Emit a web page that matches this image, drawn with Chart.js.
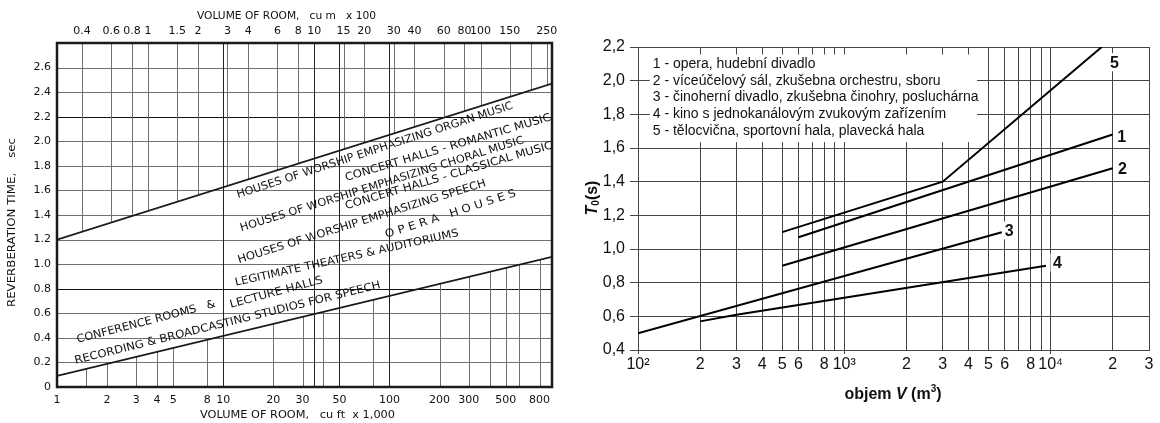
<!DOCTYPE html>
<html>
<head>
<meta charset="utf-8">
<script src="https://cdn.jsdelivr.net/npm/chart.js@4"></script>
<style>
    html, body { margin: 0; padding: 0; background: #fff; }
    #wrap { position: relative; width: 1160px; height: 423px; }
    canvas { position: absolute; top: 0; }
    #left { left: 0; }
    #right { left: 580px; }
</style>
</head>
<body>
<div id="wrap">
    <canvas id="left" width="580" height="423"></canvas>
    <canvas id="right" width="580" height="423"></canvas>
</div>
<script>
"use strict";

// left chart: recommended reverberation time, volume in cu ft x 1,000
const roomVolumes = [1, 950];
const upperLimit = [1.2, 2.47];
const lowerLimit = [0.09, 1.06];
const secTicks = [0, 0.2, 0.4, 0.6, 0.8, 1.0, 1.2, 1.4, 1.6, 1.8, 2.0, 2.2, 2.4, 2.6];
const ftTicks = [1, 2, 3, 4, 5, 8, 10, 20, 30, 50, 100, 200, 300, 500, 800];
const mTicks = [0.4, 0.6, 0.8, 1, 1.5, 2, 3, 4, 6, 8, 10, 15, 20, 30, 40, 60, 80, 100, 150, 250];
const ftGrid = [1.5, 2, 3, 4, 5, 8, 10, 20, 30, 40, 50, 80, 100, 200, 300, 400, 500, 600, 800];
const mGrid = [0.4, 0.6, 0.8, 1, 1.5, 2, 3, 4, 6, 8, 10, 15, 20, 30, 40, 60, 80, 100, 150, 200, 250];
const ftFull = [10, 50, 100];
const mFull = [10];
const CUM_TO_CUFT = 3.531; // 100 m3 expressed in 1000 ft3

const bandLabels = [
    { text: "HOUSES OF WORSHIP EMPHASIZING ORGAN MUSIC", from: [12.1, 1.56], to: [551, 2.29] },
    { text: "CONCERT HALLS - ROMANTIC MUSIC", from: [54.3, 1.70], to: [933, 2.195] },
    { text: "HOUSES OF WORSHIP EMPHASIZING CHORAL MUSIC", from: [12.7, 1.29], to: [641, 2.01] },
    { text: "CONCERT HALLS - CLASSICAL MUSIC", from: [54.3, 1.47], to: [955, 1.967] },
    { text: "HOUSES OF WORSHIP EMPHASIZING SPEECH", from: [12.3, 1.03], to: [379, 1.66] },
    { text: "O P E R A   H O U S E S", from: [94.6, 1.236], to: [574, 1.577] },
    { text: "LEGITIMATE THEATERS & AUDITORIUMS", from: [11.8, 0.846], to: [260, 1.252] },
    { text: "LECTURE HALLS", from: [11.0, 0.667], to: [39.5, 0.87] },
    { text: "CONFERENCE ROOMS   &", from: [1.32, 0.382], to: [8.95, 0.675] },
    { text: "RECORDING & BROADCASTING STUDIOS FOR SPEECH", from: [1.28, 0.211], to: [88, 0.829] }
];

// right chart: T0 vs volume V (m3), curves 1..5
const line1V = [600, 20000];
const line1T = [1.07, 1.68];
const line2V = [500, 20000];
const line2T = [0.9, 1.48];
const line3V = [100, 5800];
const line3T = [0.5, 1.1];
const line4V = [200, 300, 1000, 9500];
const line4T = [0.57, 0.61, 0.71, 0.9];
const line5V = [500, 3000, 17700];
const line5T = [1.1, 1.4, 2.2];

const volumeTicks = [100, 200, 300, 400, 500, 600, 700, 800, 900,
    1000, 2000, 3000, 4000, 5000, 6000, 7000, 8000, 9000, 10000, 20000, 30000];
const volumeLabels = ["10²", "2", "3", "4", "5", "6", "", "8", "",
    "10³", "2", "3", "4", "5", "6", "", "8", "", "10⁴", "2", "3"];
const timeTicks = [0.4, 0.5, 0.6, 0.7, 0.8, 0.9, 1.0, 1.1, 1.2, 1.3, 1.4,
    1.5, 1.6, 1.7, 1.8, 1.9, 2.0, 2.1, 2.2];

const legendItems = [
    "1 - opera, hudební divadlo",
    "2 - víceúčelový sál, zkušebna orchestru, sboru",
    "3 - činoherní divadlo, zkušebna činohry, posluchárna",
    "4 - kino s jednokanálovým zvukovým zařízením",
    "5 - tělocvična, sportovní hala, plavecká hala"
];
const legendRows = [2.1, 2.0, 1.9, 1.8, 1.7];
const curveNames = ["1", "2", "3", "4", "5"];
const curveTagV = [22100, 22300, 6300, 10800, 20400];
const curveTagT = [1.67, 1.48, 1.11, 0.92, 2.11];

const HAND = "\"DejaVu Sans\", sans-serif";
const ARIAL = "\"Liberation Sans\", Arial, sans-serif";

function points(xs, ys) {
    return xs.map((v, i) => ({ x: v, y: ys[i] }));
}

// text stretched to run from (x0,y0) to (x1,y1)
function fitText(ctx, text, x0, y0, x1, y1) {
    const len = Math.hypot(x1 - x0, y1 - y0);
    const w = ctx.measureText(text).width;
    ctx.save();
    ctx.translate(x0, y0);
    ctx.rotate(Math.atan2(y1 - y0, x1 - x0));
    ctx.scale(len / w, 1);
    ctx.textAlign = "left";
    ctx.textBaseline = "middle";
    ctx.fillText(text, 0, 0);
    ctx.restore();
}

function seg(ctx, x0, y0, x1, y1) {
    ctx.beginPath();
    ctx.moveTo(x0, y0);
    ctx.lineTo(x1, y1);
    ctx.stroke();
}

const leftDecor = {
    id: "leftDecor",
    beforeDatasetsDraw(chart) {
        const { ctx, chartArea: a } = chart;
        const { x, x2, y } = chart.scales;
        const xa = x.getPixelForValue(roomVolumes[0]);
        const xb = x.getPixelForValue(roomVolumes[roomVolumes.length - 1]);
        const along = (vals, px) => {
            const ya = y.getPixelForValue(vals[0]);
            const yb = y.getPixelForValue(vals[vals.length - 1]);
            return ya + (yb - ya) * (px - xa) / (xb - xa);
        };
        ctx.save();
        ctx.lineWidth = 1;
        for (const v of secTicks.slice(1)) {
            const py = Math.round(y.getPixelForValue(v)) + 0.5;
            ctx.strokeStyle = (v === 0.8 || v === 2.2) ? "#111" : "#707070";
            seg(ctx, a.left, py, a.right, py);
        }
        for (const v of ftGrid) {
            const px = Math.round(x.getPixelForValue(v)) + 0.5;
            const full = ftFull.includes(v);
            ctx.strokeStyle = full ? "#222" : "#707070";
            seg(ctx, px, a.bottom, px, full ? a.top : along(lowerLimit, px));
        }
        for (const v of mGrid) {
            const px = Math.round(x2.getPixelForValue(v)) + 0.5;
            const full = mFull.includes(v);
            ctx.strokeStyle = full ? "#222" : "#707070";
            seg(ctx, px, a.top, px, full ? a.bottom : along(upperLimit, px));
        }
        ctx.restore();
    },
    afterDatasetsDraw(chart) {
        const { ctx, chartArea: a } = chart;
        const { x, y } = chart.scales;
        ctx.save();
        ctx.strokeStyle = "#1a1a1a";
        ctx.lineWidth = 2.5;
        ctx.strokeRect(a.left, a.top, a.right - a.left, a.bottom - a.top);

        ctx.fillStyle = "#111";
        ctx.font = "11px " + HAND;
        for (const lb of bandLabels) {
            fitText(ctx, lb.text,
                x.getPixelForValue(lb.from[0]), y.getPixelForValue(lb.from[1]),
                x.getPixelForValue(lb.to[0]), y.getPixelForValue(lb.to[1]));
        }
        ctx.font = "10px " + HAND;
        fitText(ctx, "VOLUME OF ROOM,   cu m   x 100", 197, 16, 376, 16);
        fitText(ctx, "VOLUME OF ROOM,   cu ft  x 1,000", 200, 415, 395, 415);
        fitText(ctx, "REVERBERATION TIME,    sec", 12, 307, 12, 138);
        ctx.restore();
    }
};

const handTicks = { color: "#111", font: { family: HAND, size: 11 } };

new Chart(document.getElementById("left"), {
    type: "line",
    data: {
        datasets: [
            { data: points(roomVolumes, upperLimit), borderColor: "#1a1a1a", borderWidth: 1.8, pointRadius: 0 },
            { data: points(roomVolumes, lowerLimit), borderColor: "#1a1a1a", borderWidth: 1.8, pointRadius: 0 }
        ]
    },
    options: {
        responsive: false,
        animation: false,
        devicePixelRatio: 1,
        layout: { padding: { right: 28 } },
        plugins: { legend: { display: false }, tooltip: { enabled: false } },
        scales: {
            x: {
                type: "logarithmic",
                position: "bottom",
                min: roomVolumes[0],
                max: roomVolumes[roomVolumes.length - 1],
                grid: { display: false, drawTicks: false },
                border: { display: false },
                afterBuildTicks: s => { s.ticks = ftTicks.map(v => ({ value: v })); },
                afterFit: s => { s.height = 36; },
                ticks: Object.assign({ autoSkip: false, maxRotation: 0, minRotation: 0, padding: 7,
                    callback: v => String(v) }, handTicks)
            },
            x2: {
                type: "logarithmic",
                position: "top",
                min: roomVolumes[0] / CUM_TO_CUFT,
                max: roomVolumes[roomVolumes.length - 1] / CUM_TO_CUFT,
                grid: { display: false, drawTicks: false },
                border: { display: false },
                afterBuildTicks: s => { s.ticks = mTicks.map(v => ({ value: v })); },
                afterFit: s => { s.height = 43; },
                ticks: Object.assign({ autoSkip: false, maxRotation: 0, minRotation: 0, padding: 5,
                    callback: v => String(v) }, handTicks)
            },
            y: {
                min: 0,
                max: 2.8,
                grid: { display: false, drawTicks: false },
                border: { display: false },
                afterBuildTicks: s => { s.ticks = secTicks.map(v => ({ value: v })); },
                afterFit: s => { s.width = 57; },
                ticks: Object.assign({ padding: 6,
                    callback: v => (v === 0 ? "0" : v.toFixed(1)) }, handTicks)
            }
        }
    },
    plugins: [leftDecor]
});

const rightDecor = {
    id: "rightDecor",
    beforeDatasetsDraw(chart) {
        const { ctx } = chart;
        const { x, y } = chart.scales;
        const bx0 = x.getPixelForValue(114);
        const bx1 = x.getPixelForValue(4400);
        const by0 = y.getPixelForValue(2.155);
        const by1 = y.getPixelForValue(1.635);
        ctx.save();
        ctx.fillStyle = "#fff";
        ctx.fillRect(bx0, by0, bx1 - bx0, by1 - by0);
        ctx.fillStyle = "#111";
        ctx.font = "14px " + ARIAL;
        ctx.textBaseline = "middle";
        legendItems.forEach((t, i) => ctx.fillText(t, bx0 + 3, y.getPixelForValue(legendRows[i])));
        ctx.restore();
    },
    afterDatasetsDraw(chart) {
        const { ctx } = chart;
        const { x, y } = chart.scales;
        ctx.save();
        ctx.font = "bold 16px " + ARIAL;
        ctx.textAlign = "center";
        ctx.textBaseline = "middle";
        curveNames.forEach((n, i) => {
            const px = x.getPixelForValue(curveTagV[i]);
            const py = y.getPixelForValue(curveTagT[i]);
            ctx.fillStyle = "#fff";
            ctx.fillRect(px - 7, py - 9, 14, 18);
            ctx.fillStyle = "#111";
            ctx.fillText(n, px, py + 1);
        });

        // y title: T0 (s), rotated
        ctx.save();
        ctx.translate(11, 198);
        ctx.rotate(-Math.PI / 2);
        ctx.textAlign = "left";
        ctx.textBaseline = "alphabetic";
        const partsY = [["bold italic 16px", "T", 0], ["bold 10px", "0", 2], ["bold 16px", "(s)", 0]];
        let wy = 0;
        for (const p of partsY) { ctx.font = p[0] + " " + ARIAL; wy += ctx.measureText(p[1]).width; }
        let cx = -wy / 2;
        for (const p of partsY) {
            ctx.font = p[0] + " " + ARIAL;
            ctx.fillText(p[1], cx, 6 + p[2]);
            cx += ctx.measureText(p[1]).width;
        }
        ctx.restore();

        // x title: objem V (m3)
        const partsX = [["bold 16px", "objem ", 0], ["bold italic 16px", "V", 0], ["bold 16px", " (m", 0],
            ["bold 10px", "3", -7], ["bold 16px", ")", 0]];
        let wx = 0;
        for (const p of partsX) { ctx.font = p[0] + " " + ARIAL; wx += ctx.measureText(p[1]).width; }
        let tx = 313 - wx / 2;
        ctx.textAlign = "left";
        ctx.textBaseline = "alphabetic";
        for (const p of partsX) {
            ctx.font = p[0] + " " + ARIAL;
            ctx.fillText(p[1], tx, 399 + p[2]);
            tx += ctx.measureText(p[1]).width;
        }
        ctx.restore();
    }
};

const curveStyle = { borderColor: "#000", borderWidth: 2, pointRadius: 0, tension: 0 };
const noTick = "rgba(0,0,0,0)";

new Chart(document.getElementById("right"), {
    type: "line",
    data: {
        datasets: [
            Object.assign({ data: points(line1V, line1T) }, curveStyle),
            Object.assign({ data: points(line2V, line2T) }, curveStyle),
            Object.assign({ data: points(line3V, line3T) }, curveStyle),
            Object.assign({ data: points(line4V, line4T) }, curveStyle),
            Object.assign({ data: points(line5V, line5T) }, curveStyle)
        ]
    },
    options: {
        responsive: false,
        animation: false,
        devicePixelRatio: 1,
        layout: { padding: { top: 47, right: 11 } },
        plugins: { legend: { display: false }, tooltip: { enabled: false } },
        scales: {
            x: {
                type: "logarithmic",
                min: volumeTicks[0],
                max: volumeTicks[volumeTicks.length - 1],
                grid: {
                    color: "#444",
                    tickLength: 4,
                    tickColor: c => ([100, 1000, 10000].includes(c.tick && c.tick.value) ? "#444" : noTick)
                },
                border: { color: "#444" },
                afterBuildTicks: s => { s.ticks = volumeTicks.map(v => ({ value: v })); },
                afterFit: s => { s.height = 73; },
                ticks: {
                    autoSkip: false, maxRotation: 0, minRotation: 0, padding: 1,
                    color: "#111", font: { family: ARIAL, size: 16 },
                    callback: (v, i) => volumeLabels[i]
                }
            },
            y: {
                min: timeTicks[0],
                max: timeTicks[timeTicks.length - 1],
                grid: {
                    color: "#444",
                    tickLength: 8,
                    tickColor: c => (c.tick && Math.round(c.tick.value * 10) % 2 === 0 ? "#444" : noTick)
                },
                border: { color: "#444" },
                afterBuildTicks: s => { s.ticks = timeTicks.map(v => ({ value: v })); },
                afterFit: s => { s.width = 58; },
                ticks: {
                    padding: 5,
                    color: "#111", font: { family: ARIAL, size: 16 },
                    callback: v => {
                        const t = Math.round(v * 10);
                        return t % 2 === 0 ? (t / 10).toFixed(1).replace(".", ",") : "";
                    }
                }
            }
        }
    },
    plugins: [rightDecor]
});
</script>
</body>
</html>
